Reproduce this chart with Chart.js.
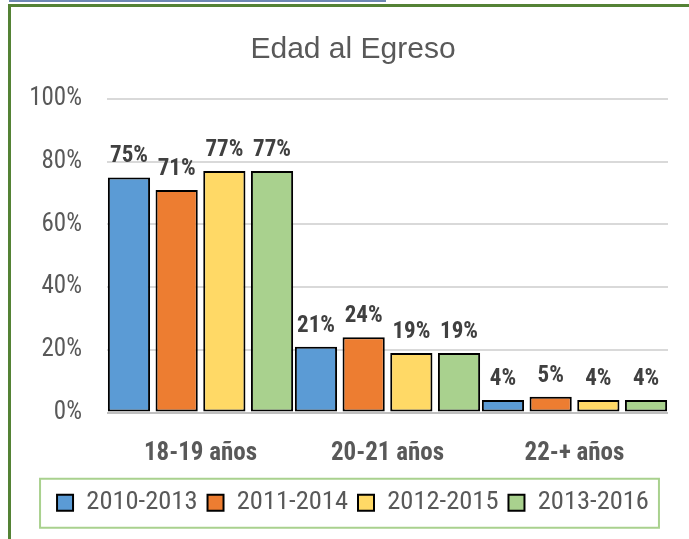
<!DOCTYPE html>
<html>
<head>
<meta charset="utf-8">
<script src="https://cdn.jsdelivr.net/npm/chart.js@4/dist/chart.umd.min.js"></script>
<style>
  html, body { margin: 0; padding: 0; background: #fff; overflow: hidden; width: 689px; height: 539px; }
  #wrap { position: absolute; left: 0; top: 0; width: 706px; height: 539px; }
  #frame { position: absolute; left: 8px; top: 4px; width: 800px; height: 700px; border: 3px solid #548235; pointer-events: none; }
  #topline { position: absolute; left: 9px; top: 0; width: 377px; height: 2px; background: #6d87b3; }
</style>
</head>
<body>
<div id="topline"></div>
<div id="frame"></div>
<div id="wrap"><canvas id="c" width="706" height="539"></canvas></div>
<script>
const titleText = 'Edad al Egreso';
const categories = ['18-19 años', '20-21 años', '22-+ años'];
const seriesNames = ['2010-2013', '2011-2014', '2012-2015', '2013-2016'];
const values2010 = [75, 21, 4];
const values2011 = [71, 24, 5];
const values2012 = [77, 19, 4];
const values2013 = [77, 19, 4];
const yTicks = [0, 20, 40, 60, 80, 100];

const seriesValues = [values2010, values2011, values2012, values2013];
const fillColors = ['#5B9BD5', '#ED7D31', '#FFD966', '#A9D18E'];

const narrow = "'Roboto Condensed', 'Liberation Sans', sans-serif";

const valueLabels = {
  id: 'valueLabels',
  afterDatasetsDraw(chart) {
    const ctx = chart.ctx;
    ctx.save();
    ctx.font = "bold 23px " + narrow;
    ctx.fillStyle = '#404040';
    ctx.textAlign = 'center';
    ctx.textBaseline = 'alphabetic';
    chart.data.datasets.forEach((ds, i) => {
      const meta = chart.getDatasetMeta(i);
      meta.data.forEach((el, j) => {
        ctx.fillText(ds.data[j] + '%', el.x, el.y - 15);
      });
    });
    ctx.restore();
  }
};

const legendFrame = {
  id: 'legendFrame',
  afterDraw(chart) {
    const hb = chart.legend && chart.legend.legendHitBoxes;
    if (!hb || !hb.length) return;
    const first = hb[0], last = hb[hb.length - 1];
    const cy = first.top + first.height / 2;
    const ctx = chart.ctx;
    ctx.save();
    ctx.strokeStyle = '#A9D18E';
    ctx.lineWidth = 2;
    ctx.strokeRect(first.left - 17, cy - 24, (last.left + last.width + 10) - (first.left - 17), 49);
    ctx.restore();
  }
};

new Chart(document.getElementById('c'), {
  type: 'bar',
  data: {
    labels: categories,
    datasets: seriesNames.map((name, i) => ({
      label: name,
      data: seriesValues[i],
      backgroundColor: fillColors[i],
      borderColor: '#000000',
      borderWidth: 2,
      borderSkipped: false,
      categoryPercentage: 1.02,
      barPercentage: 0.885
    }))
  },
  options: {
    responsive: false,
    animation: false,
    events: [],
    layout: { padding: { left: 28, right: 28, top: 0, bottom: 13 } },
    plugins: {
      title: {
        display: true,
        text: titleText,
        color: '#595959',
        font: { family: "'Liberation Sans', Arial, sans-serif", size: 30, weight: 'normal', lineHeight: 1.2 },
        padding: { top: 32, bottom: 31 }
      },
      legend: {
        position: 'bottom',
        labels: {
          boxWidth: 16,
          boxHeight: 16,
          padding: 10,
          color: '#595959',
          font: { family: narrow, size: 26.5 }
        }
      },
      tooltip: { enabled: false }
    },
    scales: {
      x: {
        grid: { display: false },
        border: { display: false },
        ticks: {
          color: '#595959',
          padding: 18,
          font: { family: narrow, size: 25, weight: 'bold' }
        },
        afterFit(s) { s.height = 67; }
      },
      y: {
        min: 0,
        max: 100,
        afterBuildTicks(s) { s.ticks = yTicks.map(v => ({ value: v })); },
        grid: {
          drawTicks: false,
          lineWidth: 2,
          color: ctx => (ctx.tick && ctx.tick.value === 0) ? '#BFBFBF' : '#D9D9D9'
        },
        border: { display: false },
        ticks: {
          color: '#595959',
          padding: 25,
          font: { family: narrow, size: 25 },
          callback: v => v + '%'
        },
        afterFit(s) { s.width = 79; }
      },
      yRight: {
        position: 'right',
        display: true,
        grid: { display: false },
        border: { display: false },
        ticks: { display: false },
        afterFit(s) { s.width = 10; }
      }
    }
  },
  plugins: [valueLabels, legendFrame]
});
</script>
</body>
</html>
